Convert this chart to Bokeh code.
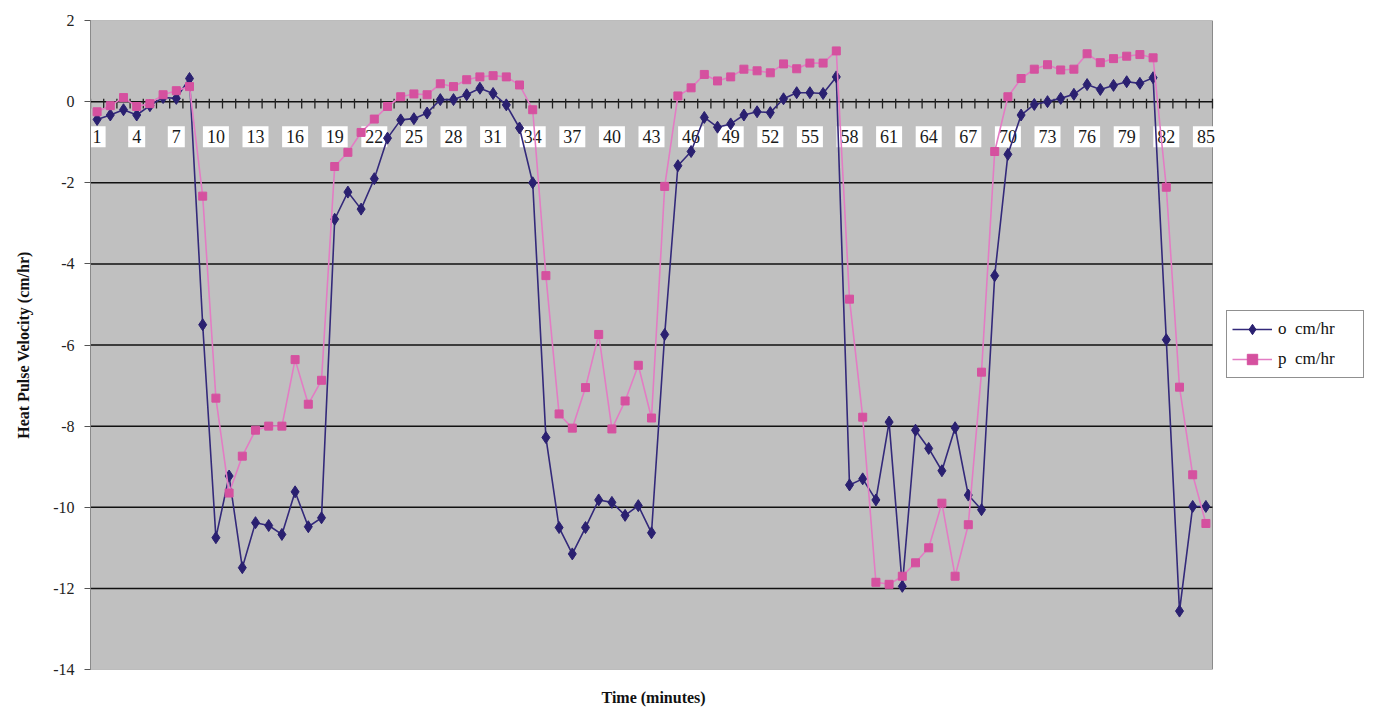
from bokeh.plotting import figure
from bokeh.models import (ColumnDataSource, FixedTicker, Legend, LegendItem, Range1d, Title)
from bokeh.core.properties import value
from bokeh.embed import file_html
from bokeh.resources import INLINE

# ---- data ----
minutes = list(range(1, 86))
o_cmhr = [-0.44, -0.33, -0.2, -0.33, -0.1, 0.1, 0.08, 0.57, -5.5, -10.75,
          -9.23, -11.49, -10.38, -10.45, -10.67, -9.62, -10.48, -10.26, -2.9, -2.23,
          -2.65, -1.9, -0.9, -0.45, -0.42, -0.28, 0.05, 0.05, 0.17, 0.33,
          0.2, -0.08, -0.65, -2.0, -8.28, -10.5, -11.15, -10.5, -9.82, -9.88,
          -10.2, -9.96, -10.63, -5.74, -1.58, -1.23, -0.39, -0.63, -0.55, -0.33,
          -0.25, -0.27, 0.07, 0.22, 0.22, 0.2, 0.61, -9.45, -9.3, -9.82,
          -7.9, -11.95, -8.1, -8.55, -9.1, -8.04, -9.7, -10.06, -4.29, -1.3,
          -0.33, -0.07, 0.0, 0.08, 0.18, 0.42, 0.3, 0.4, 0.49, 0.45,
          0.59, -5.87, -12.56, -9.98, -9.98]
p_cmhr = [-0.25, -0.1, 0.1, -0.12, -0.05, 0.17, 0.27, 0.37, -2.33, -7.31,
          -9.65, -8.74, -8.1, -8.0, -8.0, -6.36, -7.46, -6.87, -1.6, -1.25,
          -0.76, -0.43, -0.12, 0.12, 0.19, 0.17, 0.44, 0.37, 0.54, 0.61,
          0.64, 0.61, 0.41, -0.2, -4.29, -7.7, -8.05, -7.05, -5.74, -8.07,
          -7.38, -6.5, -7.8, -2.09, 0.14, 0.34, 0.67, 0.51, 0.61, 0.8,
          0.76, 0.71, 0.93, 0.81, 0.95, 0.95, 1.25, -4.87, -7.78, -11.85,
          -11.9, -11.7, -11.37, -11.0, -9.9, -11.7, -10.43, -6.67, -1.23, 0.12,
          0.57, 0.8, 0.91, 0.78, 0.8, 1.18, 0.96, 1.06, 1.12, 1.16,
          1.08, -2.11, -7.04, -9.2, -10.4]
x_labels = [str(m) for m in minutes[::3]]
y_ticks = [2, 0, -2, -4, -6, -8, -10, -12, -14]
series_names = ["o  cm/hr", "p  cm/hr"]
x_title = "Time (minutes)"
y_title = "Heat Pulse Velocity (cm/hr)"

BLUE = "#2a2070"
BLUE_LINE = "#33297a"
PINK = "#d5519f"
PINK_LINE = "#e37cc4"
SERIF = "Liberation Serif"

# layout (pixels)
LEFT, TOP, BOTTOM = 90, 20, 54
PLOT_W, PLOT_H, EXTRA_W = 1122, 649, 158   # EXTRA_W: room at right for the legend
FRAME_W = PLOT_W + EXTRA_W

x_lo, x_hi = 0.5, len(minutes) + 0.5
x_end = x_lo + (x_hi - x_lo) * FRAME_W / PLOT_W
y_lo, y_hi = min(y_ticks), max(y_ticks)

src = ColumnDataSource(dict(x=minutes, o=o_cmhr, p=p_cmhr))

p = figure(width=LEFT + FRAME_W, height=TOP + PLOT_H + BOTTOM,
           x_range=Range1d(x_lo, x_end), y_range=Range1d(y_lo, y_hi),
           output_backend="svg", toolbar_location=None,
           min_border_left=LEFT, min_border_top=TOP, min_border_bottom=BOTTOM,
           min_border_right=0,
           background_fill_color="white", border_fill_color="white",
           outline_line_color=None)

# grey plot area
p.quad(left=[x_lo], right=[x_hi], bottom=[y_lo], top=[y_hi],
       fill_color="#c0c0c0", line_color="#8a8a8a", line_width=1)

# axes
p.yaxis.ticker = FixedTicker(ticks=y_ticks)
p.yaxis.major_label_overrides = {t: str(t) for t in y_ticks}
p.yaxis.major_label_text_font = SERIF
p.yaxis.major_label_text_font_size = "16px"
p.yaxis.major_label_text_color = "#222222"
p.yaxis.axis_line_color = "#8a8a8a"
p.yaxis.major_tick_line_color = "#555555"
p.yaxis.major_tick_out = 6
p.yaxis.major_tick_in = 0
p.yaxis.minor_tick_line_color = None
p.yaxis.major_label_standoff = 10
p.yaxis.axis_label = y_title
p.yaxis.axis_label_text_font = SERIF
p.yaxis.axis_label_text_font_style = "bold"
p.yaxis.axis_label_text_font_size = "16px"
p.yaxis.axis_label_text_color = "#111111"
p.yaxis.axis_label_standoff = 18

p.xaxis.visible = False
p.xgrid.grid_line_color = None
p.ygrid.grid_line_color = None

# x title centred under the plot area (not under the legend room)
p.add_layout(Title(text=x_title, align="left", offset=PLOT_W / 2 - 50,
                   text_font=SERIF, text_font_style="bold", text_font_size="16px",
                   text_color="#111111", standoff=34), "below")

# horizontal gridlines only across the plot area
grid_y = [t for t in y_ticks if y_lo < t < y_hi]
p.segment(x0=[x_lo] * len(grid_y), x1=[x_hi] * len(grid_y), y0=grid_y, y1=grid_y,
          line_color="#111111", line_width=1.5)

# category axis drawn at zero: cross tick marks, labels with white boxes
bounds = [m - 0.5 for m in minutes] + [minutes[-1] + 0.5]
p.segment(x0=bounds, x1=bounds, y0=[0.07] * len(bounds), y1=[-0.17] * len(bounds),
          line_color="#222222", line_width=1.3)

lab_x = minutes[::3]
p.text(x=lab_x, y=[0] * len(lab_x), text=x_labels, y_offset=35,
       text_align="center", text_baseline="middle",
       text_font=value(SERIF), text_font_size="18px", text_color="#1a1a1a",
       background_fill_color="white", padding=4)

# series
l_o = p.line("x", "o", source=src, line_color=BLUE_LINE, line_width=1.6)
m_o = p.scatter("x", "o", source=src, marker="diamond", size=12,
                fill_color=BLUE, line_color=BLUE)
l_p = p.line("x", "p", source=src, line_color=PINK_LINE, line_width=1.6)
m_p = p.scatter("x", "p", source=src, marker="square", size=8,
                fill_color=PINK, line_color=PINK)

legend = Legend(items=[LegendItem(label=series_names[0], renderers=[l_o, m_o]),
                       LegendItem(label=series_names[1], renderers=[l_p, m_p])],
                location=(PLOT_W + 14, 291), border_line_color="#222222",
                border_line_width=1.2,
                label_text_font=SERIF, label_text_font_size="17px",
                label_text_color="#111111", glyph_width=40, glyph_height=26,
                label_width=80, label_height=26, spacing=4,
                padding=5, margin=0, label_standoff=6, background_fill_color="white")
p.add_layout(legend, "center")

open("out.html", "w").write(file_html(p, INLINE))
